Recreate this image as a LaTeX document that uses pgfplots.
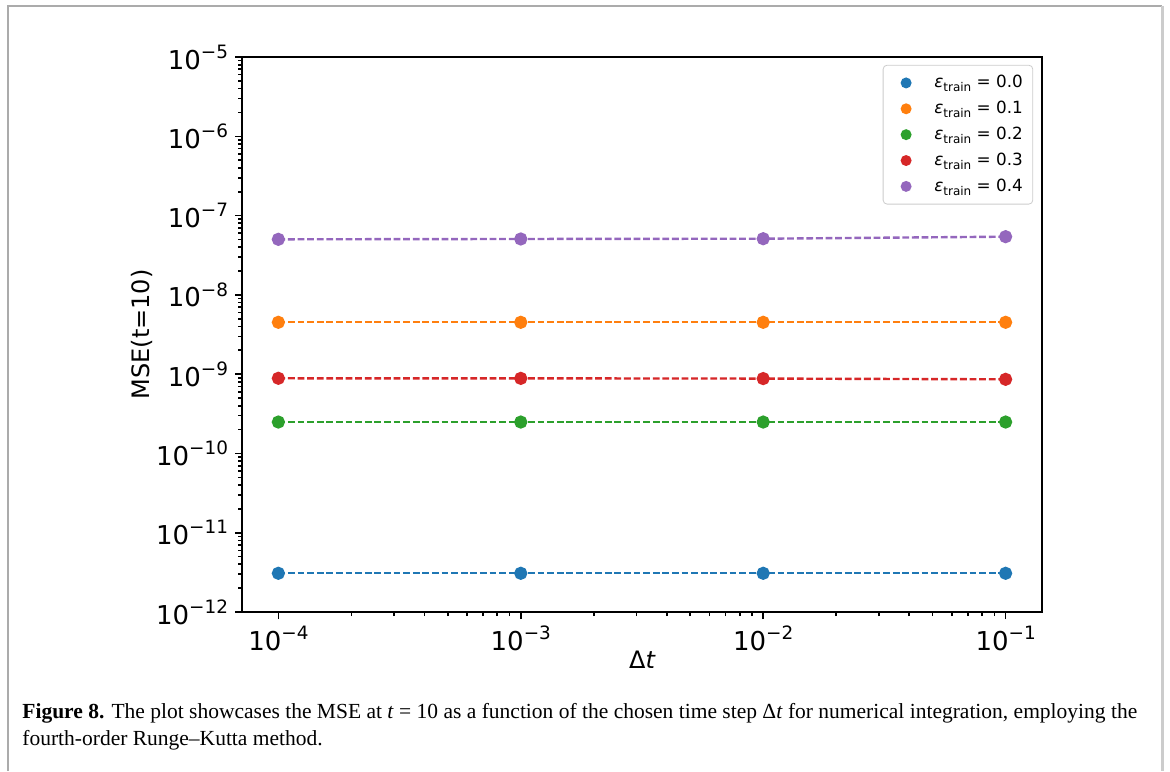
\documentclass[border=0pt]{standalone}
\usepackage{fontspec}
\setmainfont{DejaVu Sans}
\newfontfamily\capfont{Liberation Serif}
\usepackage{pgfplots}
\pgfplotsset{compat=1.18}
\definecolor{c0}{HTML}{1F77B4}
\definecolor{c1}{HTML}{FF7F0E}
\definecolor{c2}{HTML}{2CA02C}
\definecolor{c3}{HTML}{D62728}
\definecolor{c4}{HTML}{9467BD}
\newcommand\tl[1]{10\raisebox{0.42em}{\fontsize{9.2}{10}\selectfont −#1}}
\newcommand\eps[1]{{\itshape ε}\raisebox{-0.25em}{\fontsize{6}{6}\selectfont train} = #1}
\begin{document}
\begin{tikzpicture}[x=0.5pt,y=-0.5pt]
\useasboundingbox (0,0) rectangle (1170,771);
\draw[color=black!33, line width=1pt] (8,771) -- (8,6) -- (1162,6);
\draw[color=black!20, line width=1.5pt] (1162.5,6) -- (1162.5,771);
\begin{axis}[
  at={(242pt*0.5,-612pt*0.5)}, anchor=south west,
  scale only axis, width=400pt, height=277.5pt,
  xmode=log, ymode=log,
  xmin=7.08e-5, xmax=0.1413, ymin=1e-12, ymax=1e-5,
  xtick={1e-4,1e-3,1e-2,1e-1},
  xticklabels={\tl{4},\tl{3},\tl{2},\tl{1}},
  ytick={1e-12,1e-11,1e-10,1e-9,1e-8,1e-7,1e-6,1e-5},
  yticklabels={\tl{12},\tl{11},\tl{10},\tl{9},\tl{8},\tl{7},\tl{6},\tl{5}},
  tick pos=left, tick align=outside,
  major tick length=3.5pt, minor tick length=2pt,
  every tick/.style={black, line width=0.8pt},
  axis line style={line width=1.2pt},
  ticklabel style={font=\fontsize{13}{14}\selectfont},
  xlabel={Δ{\itshape t}}, ylabel={MSE(t=10)},
  every axis x label/.style={at={(rel axis cs:0.5,-0.0865)}, anchor=center, font=\fontsize{12}{14}\selectfont},
  every axis y label/.style={at={(rel axis cs:-0.125,0.5)}, anchor=center, rotate=90, font=\fontsize{12}{14}\selectfont},
  legend style={at={(rel axis cs:0.989,0.986)}, anchor=north east,
    draw=black!20, rounded corners=2pt, fill=white,
    font=\fontsize{8.4}{9}\selectfont, row sep=1.2pt,
    inner xsep=3pt, inner ysep=3pt},
  legend cell align=left,
  legend image code/.code={\path[draw=none,fill=none] (0pt,0pt) -- (20.6pt,0pt); \fill[#1,solid] (8.5pt,0pt) circle (2.1pt);},
  every axis plot/.append style={line width=1.2pt, dash pattern=on 3.4pt off 1.4pt, mark=*, mark size=2.7pt, mark options={solid}},
]
\addplot[c0] coordinates {(1e-4,3.08e-12) (1e-3,3.08e-12) (1e-2,3.08e-12) (1e-1,3.08e-12)};
\addlegendentry{\eps{0.0}}
\addplot[c1] coordinates {(1e-4,4.51e-9) (1e-3,4.51e-9) (1e-2,4.51e-9) (1e-1,4.51e-9)};
\addlegendentry{\eps{0.1}}
\addplot[c2] coordinates {(1e-4,2.49e-10) (1e-3,2.49e-10) (1e-2,2.49e-10) (1e-1,2.49e-10)};
\addlegendentry{\eps{0.2}}
\addplot[c3] coordinates {(1e-4,8.87e-10) (1e-3,8.85e-10) (1e-2,8.8e-10) (1e-1,8.61e-10)};
\addlegendentry{\eps{0.3}}
\addplot[c4] coordinates {(1e-4,5.02e-8) (1e-3,5.07e-8) (1e-2,5.11e-8) (1e-1,5.42e-8)};
\addlegendentry{\eps{0.4}}
\end{axis}
\node[anchor=base west, inner sep=0pt, font=\capfont\fontsize{10.75}{12}\selectfont] at (22,718)
  {\textbf{Figure 8.} The plot showcases the MSE at \textit{t} = 10 as a function of the chosen time step Δ\textit{t} for numerical integration, employing the};
\node[anchor=base west, inner sep=0pt, font=\capfont\fontsize{10.75}{12}\selectfont] at (22,745)
  {fourth-order Runge–Kutta method.};
\end{tikzpicture}
\end{document}
